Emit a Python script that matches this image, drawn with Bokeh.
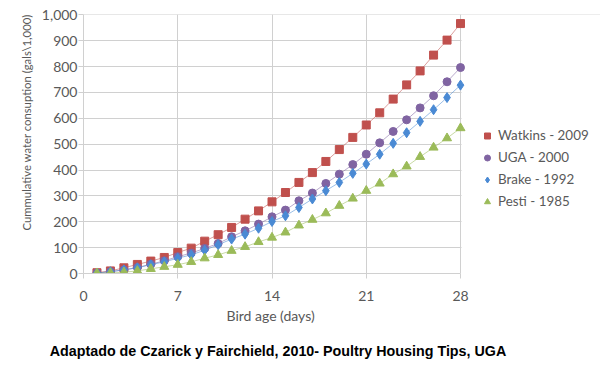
from bokeh.plotting import figure
from bokeh.layouts import column
from bokeh.models import (Legend, LegendItem, Div, NumeralTickFormatter, FixedTicker,
                          Range1d, BoxAnnotation, Title)
from bokeh.embed import file_html
from bokeh.resources import INLINE

days = list(range(1, 29))
watkins = [3, 10, 22, 35, 48, 62, 81, 98, 125, 150, 178, 210, 242, 277, 313, 352,
           390, 433, 479, 526, 574, 621, 674, 729, 783, 844, 902, 966]
uga = [2, 7, 14, 23, 36, 49, 65, 79, 97, 116, 142, 165, 191, 219, 245, 281,
       311, 348, 384, 421, 461, 505, 549, 594, 640, 687, 741, 796]
brake = [2, 7, 14, 22, 34, 45, 59, 72, 90, 111, 133, 152, 175, 201, 223, 255,
         288, 320, 352, 387, 423, 461, 503, 544, 588, 633, 680, 728]
pesti = [1, 2, 5, 10, 18, 26, 34, 45, 59, 72, 88, 103, 122, 139, 159, 186,
         208, 233, 262, 290, 320, 348, 384, 414, 451, 487, 523, 562]
series_names = ["Watkins - 2009", "UGA - 2000", "Brake - 1992", "Pesti - 1985"]
x_ticks = [0, 7, 14, 21, 28]
y_ticks = list(range(0, 1001, 100))
x_title = "Bird age (days)"
y_title = "Cummulative water consuption (gals\\1,000)"
caption = "Adaptado de Czarick y Fairchield, 2010- Poultry Housing Tips, UGA"

FONT = "Lato"
TXT = "#595959"
GRID = "#d0d0d0"

W, H = 600, 330
LEFT, TOP, BOTTOM = 83, 14, 57
PLOT_W = 377                      # pixel width of the 0..28 day axis
x_max = x_ticks[-1]
x_end = x_max * (W - LEFT) / PLOT_W   # frame extends right to hold the legend

p = figure(width=W, height=H, output_backend="svg", toolbar_location=None,
           x_range=Range1d(0, x_end), y_range=Range1d(0, 1001),
           min_border_left=LEFT, min_border_right=0, min_border_top=TOP,
           min_border_bottom=BOTTOM)
p.outline_line_color = None
p.background_fill_color = "white"
p.border_fill_color = "white"

for ax in (p.xaxis[0], p.yaxis[0]):
    ax.axis_line_color = GRID
    ax.major_tick_line_color = GRID
    ax.major_tick_out = 5
    ax.major_tick_in = 0
    ax.minor_tick_line_color = None
    ax.major_label_text_font = FONT
    ax.major_label_text_color = TXT
    ax.major_label_text_font_size = "14px"

p.xaxis.ticker = FixedTicker(ticks=x_ticks)
p.xaxis.bounds = (0, x_max)
p.yaxis.ticker = FixedTicker(ticks=y_ticks)
p.yaxis.formatter = NumeralTickFormatter(format="0,0")
p.xaxis.major_label_standoff = 12
p.yaxis.major_label_standoff = 1

# axis titles as plot titles, left-aligned with an offset to sit where the reference has them
xt = Title(text=x_title, align="left", offset=143, standoff=2,
           text_font=FONT, text_font_size="14px", text_font_style="normal",
           text_color=TXT)
p.add_layout(xt, "below")
yt = Title(text=y_title, align="left", offset=43, standoff=12,
           text_font=FONT, text_font_size="11.3px", text_font_style="normal",
           text_color=TXT)
p.add_layout(yt, "left")

p.xgrid.ticker = FixedTicker(ticks=x_ticks)
p.ygrid.ticker = FixedTicker(ticks=y_ticks)
p.xgrid.grid_line_color = GRID
p.ygrid.grid_line_color = GRID

# white cover so the horizontal grid stops at day 28
px = x_end / (W - LEFT)
p.add_layout(BoxAnnotation(left=x_max + px, fill_color="white", fill_alpha=1,
                           line_color=None, level="underlay"))

specs = [
    (watkins, "#C0504D", "square", 8),
    (uga, "#8064A2", "circle", 8),
    (brake, "#4A8AD4", "diamond", 10),
    (pesti, "#9BBB59", "triangle", 9),
]
items = []
for (vals, col, mk, sz), name in zip(specs, series_names):
    p.line(days, vals, line_color=col, line_alpha=0.55, line_width=1)
    r = p.scatter(days, vals, marker=mk, size=sz, fill_color=col, line_color=col)
    items.append(LegendItem(label=name, renderers=[r]))

legend = Legend(items=items, location=(393, 64), padding=0, margin=0,
                spacing=6, glyph_width=22, glyph_height=15, label_height=15,
                label_standoff=0, label_text_font=FONT, label_text_font_size="13.4px",
                label_text_color=TXT, background_fill_alpha=0, border_line_color=None)
p.add_layout(legend, "center")

cap = Div(text=caption, width=556, height=18, margin=(13, 0, 0, 0),
          styles={"font-family": "Liberation Sans", "font-weight": "bold",
                  "font-size": "14.3px", "color": "black", "text-align": "center",
                  "line-height": "normal", "white-space": "nowrap"})

layout = column(p, cap, spacing=0)
open("out.html", "w").write(file_html(layout, INLINE))
